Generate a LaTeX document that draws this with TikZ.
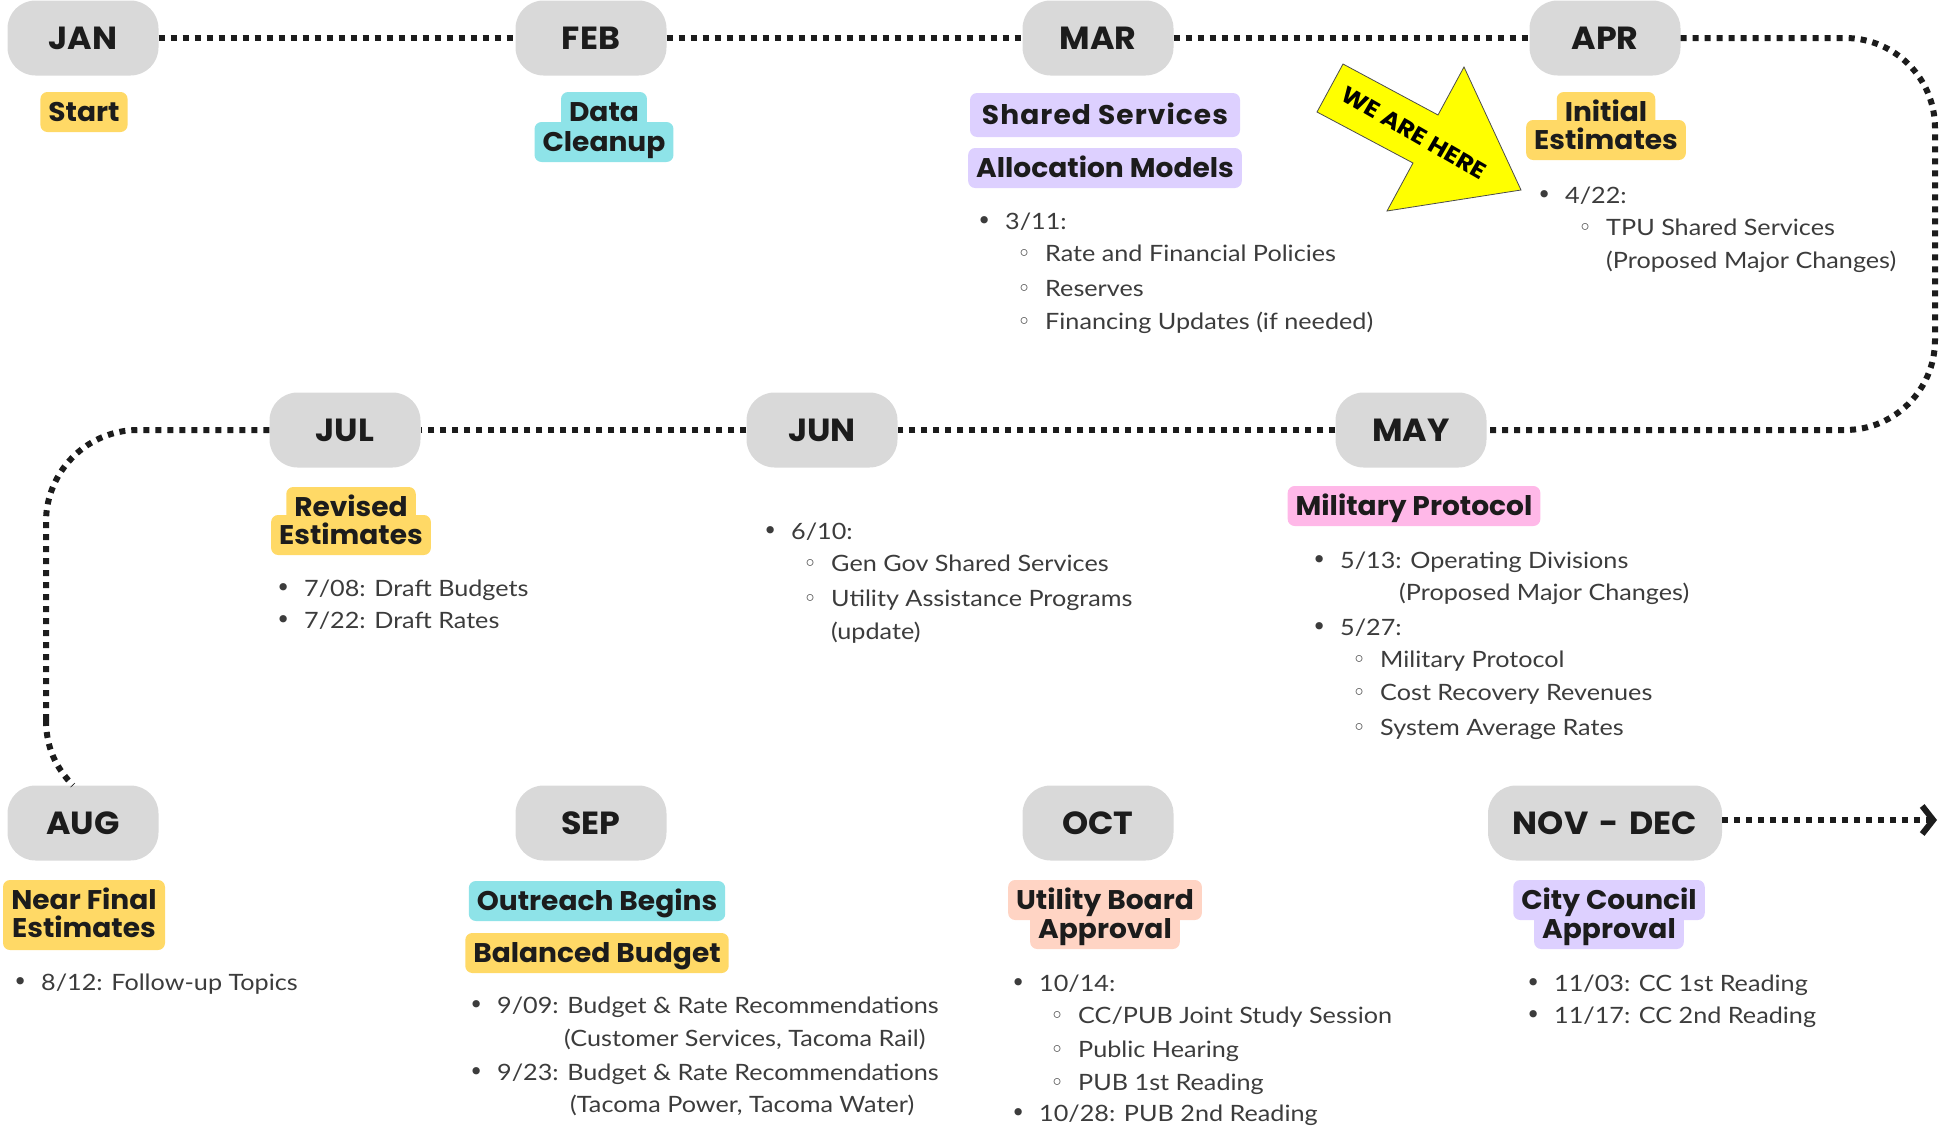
\documentclass[tikz,border=0pt]{standalone}
\usepackage{fontspec}
\setmainfont{Lato}[FakeStretch=1.12]
\newfontfamily\popf{Poppins}[FakeStretch=1.04]
\newfontfamily\symf{DejaVu Sans}
\usetikzlibrary{arrows.meta}
\definecolor{ink}{HTML}{1C1C1C}
\definecolor{bodyink}{HTML}{3C3C3C}
\definecolor{pillgray}{HTML}{D9D9D9}
\definecolor{tyellow}{HTML}{FFD966}
\definecolor{tcyan}{HTML}{8EE3E8}
\definecolor{tlav}{HTML}{DDD0FF}
\definecolor{tpink}{HTML}{FFB8E8}
\definecolor{tsalmon}{HTML}{FFD4C4}
\definecolor{arrowyellow}{HTML}{FFFF00}
\tikzset{
  month/.style={fill=pillgray, rounded corners=28pt, minimum width=151pt, minimum height=75pt,
    inner sep=0pt, font=\popf\bfseries\fontsize{32}{32}\selectfont, text=ink,
    text height=28.4pt, text depth=6pt},
  tagbox/.style={rounded corners=7pt, inner xsep=8pt, inner ysep=0pt,
    font=\popf\bfseries\fontsize{27}{30}\selectfont, text height=25pt, text depth=6pt,
    minimum height=40pt},
  tag/.style={tagbox, text=ink},
  tagtext/.style={inner xsep=8pt, inner ysep=0pt, text=ink,
    font=\popf\bfseries\fontsize{27}{30}\selectfont, text height=25pt, text depth=6pt},
  dotline/.style={draw=ink, line width=6pt, dash pattern=on 6pt off 6pt},
  item/.style={anchor=west, inner sep=0pt, font=\fontsize{22.5}{27}\selectfont, text=bodyink,
    text height=21.2pt, text depth=5pt},
  herearrow/.style={draw=black!70, line width=0.8pt, fill=arrowyellow},
}
\newcommand\bitm[4]{\node[item] (#1) at (#2,#3) {\makebox[0pt][r]{\makebox[42pt]{\symf\fontsize{25}{25}\selectfont •}}#4};}
\newcommand\sitm[4]{\node[item] (#1) at (#2,#3) {\makebox[0pt][r]{\makebox[42pt]{\symf\fontsize{23}{23}\selectfont ◦}}#4};}
\newcommand\titm[4]{\node[item] (#1) at (#2,#3) {#4};}
% two-line tag: name, x, y1, y2, colour, line1, line2
\newcommand\twotag[7]{%
  \node[tagbox, fill=#5] (#1boxa) at (#2,#3) {\phantom{#6}};
  \node[tagbox, fill=#5] (#1boxb) at (#2,#4) {\phantom{#7}};
  \node[tagtext] (#1a) at (#2,#3) {#6};
  \node[tagtext] (#1b) at (#2,#4) {#7};}
\begin{document}
\begin{tikzpicture}[x=1pt, y=-1pt]
\useasboundingbox (0,0) rectangle (1939,1127);

% month pills
\node[month] (jan) at (83,38) {JAN};
\node[month] (feb) at (591,38) {FEB};
\node[month] (mar) at (1098,38) {MAR};
\node[month] (apr) at (1605,38) {APR};
\node[month] (jul) at (345,430) {JUL};
\node[month] (jun) at (822,430) {JUN};
\node[month] (may) at (1411,430) {MAY};
\node[month] (aug) at (83,823) {AUG};
\node[month] (sep) at (591,823) {SEP};
\node[month] (oct) at (1098,823) {OCT};
\node[month, minimum width=234pt] (nov) at (1605,823) {NOV\hspace{0.34em}-\hspace{0.34em}DEC};

\coordinate (rtop) at (1935,38);
\coordinate (rbot) at (1935,430);
\coordinate (ltop) at (46,430);
\coordinate (lbend) at (46,720);
\coordinate (arrowend) at (1937,820);

% timeline connectors
\draw[dotline] (jan) -- (feb);
\draw[dotline] (feb) -- (mar);
\draw[dotline] (mar) -- (apr);
\draw[dotline, rounded corners=90pt] (apr.east) -- (rtop) -- (rbot) -- (may.east);
\draw[dotline] (may) -- (jun);
\draw[dotline] (jun) -- (jul);
\draw[dotline, rounded corners=92pt] (jul.west) -- (ltop) -- (lbend);
\draw[dotline] (lbend) .. controls (46,752) and (60,772) .. ([xshift=-10pt]aug.north);
\draw[dotline, -{Straight Barb[length=11pt, width=28pt, line width=6pt]}] ([yshift=3pt]nov.east) -- (arrowend);

% WE ARE HERE arrow
\path[herearrow] (1343,64) -- (1438,115) -- (1464,67) -- (1521,190) -- (1387,211) -- (1413,163) -- (1317,112) -- cycle;
\node[rotate=-30, text=black, font=\popf\bfseries\fontsize{23}{23}\selectfont\addfontfeature{FakeStretch=1.1}] (here) at (1414,133) {WE ARE HERE};

% tags
\node[tag, fill=tyellow] (start) at (84,112) {Start};
\twotag{data}{604}{112}{142}{tcyan}{Data}{Cleanup}
\node[tag, fill=tlav, minimum width=270pt, minimum height=44pt] (shs) at (1105,115) {\addfontfeature{LetterSpace=4}Shared Services};
\node[tag, fill=tlav, minimum width=270pt] (alm) at (1105,168) {Allocation Models};
\twotag{init}{1606}{112}{140}{tyellow}{Initial}{Estimates}
\twotag{rev}{351}{507}{535}{tyellow}{Revised}{Estimates}
\node[tag, fill=tpink] (milp) at (1414,506) {Military Protocol};
\node[tagbox, fill=tyellow, minimum width=162pt, minimum height=70pt] (nfbox) at (84,915) {};
\node[tagtext] (nfa) at (84,900) {Near Final};
\node[tagtext] (nfb) at (84,928) {Estimates};
\node[tag, fill=tcyan] (outr) at (597,901) {Outreach Begins};
\node[tag, fill=tyellow] (bal) at (597,953) {Balanced Budget};
\twotag{ub}{1105}{900}{929}{tsalmon}{Utility Board}{Approval}
\twotag{cc}{1609}{900}{929}{tlav}{City Council}{Approval}

% MAR list
\bitm{mar1}{1005}{221}{3/11:}
\sitm{mar2}{1045}{253}{Rate and Financial Policies}
\sitm{mar3}{1045}{288}{Reserves}
\sitm{mar4}{1045}{321}{Financing Updates (if needed)}
% APR list
\bitm{apr1}{1565}{195}{4/22:}
\sitm{apr2}{1606}{227}{TPU Shared Services}
\titm{apr3}{1606}{260}{(Proposed Major Changes)}
% JUL list
\bitm{jul1}{304}{588}{7/08: Draft Budgets}
\bitm{jul2}{304}{620}{7/22: Draft Rates}
% JUN list
\bitm{jun1}{791}{531}{6/10:}
\sitm{jun2}{831}{563}{Gen Gov Shared Services}
\sitm{jun3}{831}{598}{Utility Assistance Programs}
\titm{jun4}{831}{631}{(update)}
% MAY list
\bitm{may1}{1340}{560}{5/13: Operating Divisions}
\titm{may2}{1399}{592}{(Proposed Major Changes)}
\bitm{may3}{1340}{627}{5/27:}
\sitm{may4}{1380}{659}{Military Protocol}
\sitm{may5}{1380}{692}{Cost Recovery Revenues}
\sitm{may6}{1380}{727}{System Average Rates}
% AUG list
\bitm{aug1}{41}{982}{8/12: Follow-up Topics}
% SEP list
\bitm{sep1}{497}{1005}{9/09: Budget \& Rate Recommendations}
\titm{sep2}{564}{1038}{(Customer Services, Tacoma Rail)}
\bitm{sep3}{497}{1072}{9/23: Budget \& Rate Recommendations}
\titm{sep4}{570}{1104}{(Tacoma Power, Tacoma Water)}
% OCT list
\bitm{oct1}{1039}{983}{10/14:}
\sitm{oct2}{1078}{1015}{CC/PUB Joint Study Session}
\sitm{oct3}{1078}{1049}{Public Hearing}
\sitm{oct4}{1078}{1082}{PUB 1st Reading}
\bitm{oct5}{1039}{1113}{10/28: PUB 2nd Reading}
% NOV-DEC list
\bitm{nov1}{1554}{983}{11/03: CC 1st Reading}
\bitm{nov2}{1554}{1015}{11/17: CC 2nd Reading}
\end{tikzpicture}
\end{document}
